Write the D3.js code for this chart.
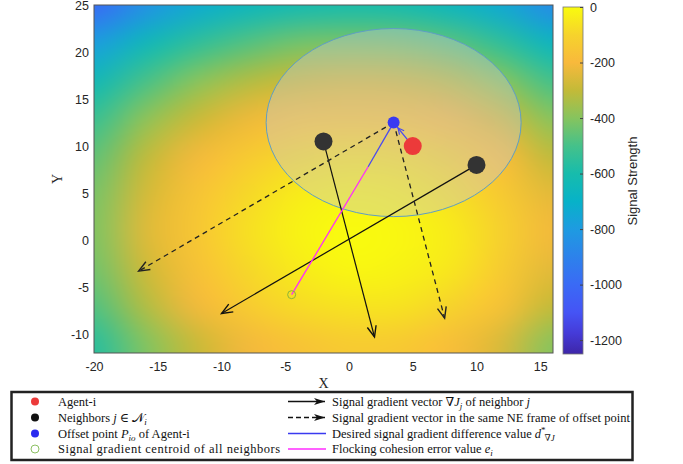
<!DOCTYPE html>
<html>
<head>
<meta charset="utf-8">
<script src="https://cdn.jsdelivr.net/npm/d3@7"></script>
<style>
  body { margin: 0; background: #fff; }
  svg { display: block; }
  .tick text { font-family: "Liberation Sans", Arial, sans-serif; font-size: 12.5px; fill: #262626; }
  .leg { font-family: "Liberation Serif", "DejaVu Serif", serif; font-size: 12.5px; fill: #111; }
</style>
</head>
<body>
<svg id="chart" width="683" height="464"></svg>
<script>
// signal field, one row per y node (top row first)
const xNodes = [-20, -16, -12, -8, -4, 0, 4, 8, 12, 16];
const yNodes = [25, 21, 17, 13, 9, 5, 1, -3, -7, -11];
const signal = [
  [-1000, -840, -730, -660, -620, -600, -610, -660, -740, -870],
  [-790, -650, -550, -480, -430, -420, -430, -470, -550, -670],
  [-640, -500, -400, -330, -290, -270, -280, -320, -400, -510],
  [-530, -390, -290, -220, -170, -160, -170, -210, -280, -400],
  [-460, -310, -210, -140, -90, -70, -80, -120, -190, -310],
  [-420, -270, -160, -90, -40, -20, -30, -70, -140, -240],
  [-410, -250, -150, -70, -20, 0, -10, -40, -110, -210],
  [-430, -280, -170, -90, -40, -10, -20, -50, -130, -240],
  [-480, -330, -210, -130, -80, -60, -60, -100, -170, -300],
  [-560, -410, -290, -210, -160, -130, -140, -180, -260, -400]
];

const agentI = [5, 10];
const neighbors = [[-2, 10.5], [10, 8]];
const gradients = [[4, -20.8], [-20, -15.8]];
const offsetPoint = [3.5, 12.5];
const centroid = [-4.5, -5.8];
const desiredEnd = [1.5, 7.8];
const sensingRadius = 10;

const xTicks = [-20, -15, -10, -5, 0, 5, 10, 15];
const yTicks = [-10, -5, 0, 5, 10, 15, 20, 25];
const cbTicks = [0, -200, -400, -600, -800, -1000, -1200];

// parula-like colormap
const cmapVals = [-1250, -1175, -1100, -1000, -900, -800, -700, -600, -500, -400, -300, -200, -100, 0];
const cmapCols = ["#3e26a8", "#453bd8", "#4554f5", "#3a6af5", "#2d82eb", "#1e9be1", "#07b2c8",
  "#17bcac", "#45c18a", "#86c45e", "#c3ba38", "#f8b93c", "#f6d32c", "#f9fb0e"];

const svg = d3.select("#chart");
const L = 94, T = 5, R = 553, B = 353;
const x = d3.scaleLinear().domain([-20, 16]).range([L, R]);
const y = d3.scaleLinear().domain([-12, 25]).range([B, T]);
const color = d3.scaleLinear().domain(cmapVals).range(cmapCols).clamp(true);
const plain = d => String(d);

// heatmap: tiny canvas (edges repeated) upscaled with smoothing
const nx = xNodes.length, ny = yNodes.length;
const small = document.createElement("canvas");
small.width = nx + 2; small.height = ny + 2;
const sctx = small.getContext("2d");
const img = sctx.createImageData(nx + 2, ny + 2);
for (let j = 0; j < ny + 2; j++) {
  for (let i = 0; i < nx + 2; i++) {
    const jj = Math.min(ny - 1, Math.max(0, j - 1)), ii = Math.min(nx - 1, Math.max(0, i - 1));
    const c = d3.rgb(color(signal[jj][ii]));
    const k = (j * (nx + 2) + i) * 4;
    img.data[k] = c.r; img.data[k + 1] = c.g; img.data[k + 2] = c.b; img.data[k + 3] = 255;
  }
}
sctx.putImageData(img, 0, 0);

const pad = 60;
const W = R - L, H = B - T;
const big = document.createElement("canvas");
big.width = W + 2 * pad; big.height = H + 2 * pad;
const bctx = big.getContext("2d");
bctx.imageSmoothingEnabled = true;
bctx.imageSmoothingQuality = "high";
const cw = x(xNodes[1]) - x(xNodes[0]), ch = y(yNodes[1]) - y(yNodes[0]);
bctx.drawImage(small,
  x(xNodes[0]) - 1.5 * cw - L + pad, y(yNodes[0]) - 1.5 * ch - T + pad,
  cw * (nx + 2), ch * (ny + 2));

const fin = document.createElement("canvas");
fin.width = W; fin.height = H;
const fctx = fin.getContext("2d");
fctx.filter = "blur(4px)";
fctx.drawImage(big, -pad, -pad);

svg.append("image")
  .attr("href", fin.toDataURL())
  .attr("x", L).attr("y", T).attr("width", W).attr("height", H);

// markers
const defs = svg.append("defs");
function head(id, col, refX) {
  defs.append("marker")
    .attr("id", id)
    .attr("viewBox", "-14 -7 16 14")
    .attr("refX", refX).attr("refY", 0)
    .attr("markerWidth", 16).attr("markerHeight", 14)
    .attr("markerUnits", "userSpaceOnUse")
    .attr("orient", "auto")
    .append("path")
    .attr("d", "M-11,-4.5 L0,0 L-11,4.5")
    .attr("fill", "none").attr("stroke", col).attr("stroke-width", 1.4);
}
head("hBlack", "#111", 0);
head("hDash", "#222", 0);
defs.append("marker")
  .attr("id", "hBlue")
  .attr("viewBox", "-10 -5 12 10")
  .attr("refX", 7).attr("refY", 0)
  .attr("markerWidth", 12).attr("markerHeight", 10)
  .attr("markerUnits", "userSpaceOnUse")
  .attr("orient", "auto")
  .append("path")
  .attr("d", "M-6,-3 L0,0 L-6,3")
  .attr("fill", "none").attr("stroke", "#4a4af0").attr("stroke-width", 1.2);
defs.append("marker")
  .attr("id", "hLeg")
  .attr("viewBox", "-12 -5 13 10")
  .attr("refX", 0).attr("refY", 0)
  .attr("markerWidth", 13).attr("markerHeight", 10)
  .attr("markerUnits", "userSpaceOnUse")
  .attr("orient", "auto")
  .append("path")
  .attr("d", "M-11,-3.5 L0,0 L-11,3.5 L-8,0 Z")
  .attr("fill", "#111");

// sensing range
svg.append("ellipse")
  .attr("cx", x(offsetPoint[0])).attr("cy", y(offsetPoint[1]))
  .attr("rx", x(offsetPoint[0] + sensingRadius) - x(offsetPoint[0]))
  .attr("ry", y(offsetPoint[1]) - y(offsetPoint[1] + sensingRadius))
  .attr("fill", "#c8c8d0").attr("fill-opacity", 0.4)
  .attr("stroke", "#5f9ec4").attr("stroke-width", 1);

// gradient vectors at neighbors
svg.append("g").selectAll("line")
  .data(neighbors)
  .join("line")
  .attr("x1", d => x(d[0])).attr("y1", d => y(d[1]))
  .attr("x2", (d, i) => x(d[0] + gradients[i][0])).attr("y2", (d, i) => y(d[1] + gradients[i][1]))
  .attr("stroke", "#111").attr("stroke-width", 1.2)
  .attr("marker-end", "url(#hBlack)");

// same vectors moved to the offset point
svg.append("g").selectAll("line")
  .data(gradients)
  .join("line")
  .attr("x1", x(offsetPoint[0])).attr("y1", y(offsetPoint[1]))
  .attr("x2", d => x(offsetPoint[0] + d[0])).attr("y2", d => y(offsetPoint[1] + d[1]))
  .attr("stroke", "#222").attr("stroke-width", 1.3)
  .attr("stroke-dasharray", "5,4")
  .attr("marker-end", "url(#hDash)");

// cohesion error and desired difference
svg.append("line")
  .attr("x1", x(centroid[0])).attr("y1", y(centroid[1]))
  .attr("x2", x(desiredEnd[0])).attr("y2", y(desiredEnd[1]))
  .attr("stroke", "#ff2cff").attr("stroke-width", 1.3);
svg.append("line")
  .attr("x1", x(desiredEnd[0])).attr("y1", y(desiredEnd[1]))
  .attr("x2", x(offsetPoint[0])).attr("y2", y(offsetPoint[1]))
  .attr("stroke", "#4a4af0").attr("stroke-width", 1.3);
svg.append("line")
  .attr("x1", x(agentI[0])).attr("y1", y(agentI[1]))
  .attr("x2", x(offsetPoint[0])).attr("y2", y(offsetPoint[1]))
  .attr("stroke", "#4a4af0").attr("stroke-width", 1.3)
  .attr("marker-end", "url(#hBlue)");

// points
svg.append("circle")
  .attr("cx", x(centroid[0])).attr("cy", y(centroid[1])).attr("r", 4)
  .attr("fill", "none").attr("stroke", "#8cb43a").attr("stroke-width", 1);
svg.append("g").selectAll("circle")
  .data(neighbors)
  .join("circle")
  .attr("cx", d => x(d[0])).attr("cy", d => y(d[1])).attr("r", 9)
  .attr("fill", "#333");
svg.append("circle")
  .attr("cx", x(agentI[0])).attr("cy", y(agentI[1])).attr("r", 9)
  .attr("fill", "#ec3a3a");
svg.append("circle")
  .attr("cx", x(offsetPoint[0])).attr("cy", y(offsetPoint[1])).attr("r", 6)
  .attr("fill", "#3a3af0");

// axes
svg.append("rect")
  .attr("x", L).attr("y", T).attr("width", W).attr("height", H)
  .attr("fill", "none").attr("stroke", "#555").attr("stroke-width", 1);

const xAxis = svg.append("g")
  .attr("transform", `translate(0,${B})`)
  .call(d3.axisBottom(x).tickValues(xTicks).tickFormat(plain).tickSize(0).tickPadding(9));
xAxis.select(".domain").remove();
const yAxis = svg.append("g")
  .attr("transform", `translate(${L},0)`)
  .call(d3.axisLeft(y).tickValues(yTicks).tickFormat(plain).tickSize(0).tickPadding(5));
yAxis.select(".domain").remove();

svg.append("text")
  .attr("x", (L + R) / 2).attr("y", 388)
  .attr("text-anchor", "middle")
  .style("font-family", "Liberation Serif, serif").style("font-size", "14px").style("fill", "#262626")
  .text("X");
svg.append("text")
  .attr("transform", `translate(62,${(T + B) / 2}) rotate(-90)`)
  .attr("text-anchor", "middle")
  .style("font-family", "Liberation Serif, serif").style("font-size", "14px").style("fill", "#262626")
  .text("Y");

// colorbar
const cbX = 563, cbW = 20;
const cb = d3.scaleLinear().domain([-1250, 0]).range([354, 7]);
const grad = defs.append("linearGradient")
  .attr("id", "cbGrad")
  .attr("x1", 0).attr("y1", 1).attr("x2", 0).attr("y2", 0);
grad.selectAll("stop")
  .data(cmapVals)
  .join("stop")
  .attr("offset", d => (cb(d) - 354) / (7 - 354))
  .attr("stop-color", (d, i) => cmapCols[i]);
svg.append("rect")
  .attr("x", cbX).attr("y", cb(0)).attr("width", cbW).attr("height", cb(-1250) - cb(0))
  .attr("fill", "url(#cbGrad)").attr("stroke", "#777").attr("stroke-width", 0.8);
const cbAxis = svg.append("g")
  .attr("transform", `translate(${cbX + cbW},0)`)
  .call(d3.axisRight(cb).tickValues(cbTicks).tickFormat(plain).tickSize(-3).tickPadding(7));
cbAxis.select(".domain").remove();
cbAxis.selectAll(".tick line").attr("stroke", "#444");
svg.append("text")
  .attr("transform", "translate(637,181) rotate(-90)")
  .attr("text-anchor", "middle")
  .style("font-family", "Liberation Sans, Arial, sans-serif").style("font-size", "13px").style("fill", "#262626")
  .text("Signal Strength");

// legend
svg.append("rect")
  .attr("x", 11.5).attr("y", 392).attr("width", 621).attr("height", 68)
  .attr("fill", "#fff").attr("stroke", "#222").attr("stroke-width", 2.5);

const rowsY = [401.5, 417.5, 433.5, 449];
const leg = svg.append("g");
leg.append("circle").attr("cx", 35).attr("cy", rowsY[0]).attr("r", 4).attr("fill", "#ec3a3a");
leg.append("circle").attr("cx", 35).attr("cy", rowsY[1]).attr("r", 4).attr("fill", "#111");
leg.append("circle").attr("cx", 35).attr("cy", rowsY[2]).attr("r", 4).attr("fill", "#2a2af0");
leg.append("circle").attr("cx", 35).attr("cy", rowsY[3]).attr("r", 4)
  .attr("fill", "none").attr("stroke", "#8cc063").attr("stroke-width", 1);

leg.append("line").attr("x1", 288).attr("x2", 325).attr("y1", rowsY[0]).attr("y2", rowsY[0])
  .attr("stroke", "#111").attr("stroke-width", 1.3).attr("marker-end", "url(#hLeg)");
leg.append("line").attr("x1", 288).attr("x2", 325).attr("y1", rowsY[1]).attr("y2", rowsY[1])
  .attr("stroke", "#111").attr("stroke-width", 1.3).attr("stroke-dasharray", "5,3")
  .attr("marker-end", "url(#hLeg)");
leg.append("line").attr("x1", 288).attr("x2", 326).attr("y1", rowsY[2]).attr("y2", rowsY[2])
  .attr("stroke", "#3a3af0").attr("stroke-width", 1.3);
leg.append("line").attr("x1", 288).attr("x2", 326).attr("y1", rowsY[3]).attr("y2", rowsY[3])
  .attr("stroke", "#ff2cff").attr("stroke-width", 1.3);

function legText(xp, yp, parts, len) {
  const t = leg.append("text").attr("class", "leg").attr("x", xp).attr("y", yp + 4);
  if (len) t.attr("textLength", len).attr("lengthAdjust", "spacing");
  parts.forEach(p => {
    const s = t.append("tspan").text(p.t);
    if (p.i) s.style("font-style", "italic");
    if (p.dy) s.attr("dy", p.dy);
    if (p.dx) s.attr("dx", p.dx);
    if (p.s) s.style("font-size", p.s + "px");
  });
}
legText(58, rowsY[0], [{t: "Agent-i"}]);
legText(58, rowsY[1], [{t: "Neighbors "}, {t: "j", i: 1}, {t: " \u2208 "}, {t: "\uD835\uDCA9", i: 0},
  {t: "i", i: 1, s: 9, dy: 3}]);
legText(58, rowsY[2], [{t: "Offset point "}, {t: "P", i: 1}, {t: "io", i: 1, s: 9, dy: 3},
  {t: " of Agent-i", dy: -3}]);
legText(58, rowsY[3], [{t: "Signal gradient centroid of all neighbors"}], 222);
legText(332, rowsY[0], [{t: "Signal gradient vector \u2207"}, {t: "J", i: 1}, {t: "j", i: 1, s: 9, dy: 3},
  {t: " of neighbor ", dy: -3}, {t: "j", i: 1}]);
legText(332, rowsY[1], [{t: "Signal gradient vector in the same NE frame of offset point"}], 298);
legText(332, rowsY[2], [{t: "Desired signal gradient difference value "}, {t: "d", i: 1},
  {t: "*", s: 9, dy: -5}, {t: "\u2207J", i: 1, s: 9, dy: 8, dx: -1}]);
legText(332, rowsY[3], [{t: "Flocking cohesion error value "}, {t: "e", i: 1}, {t: "i", i: 1, s: 9, dy: 3}]);
</script>
</body>
</html>
